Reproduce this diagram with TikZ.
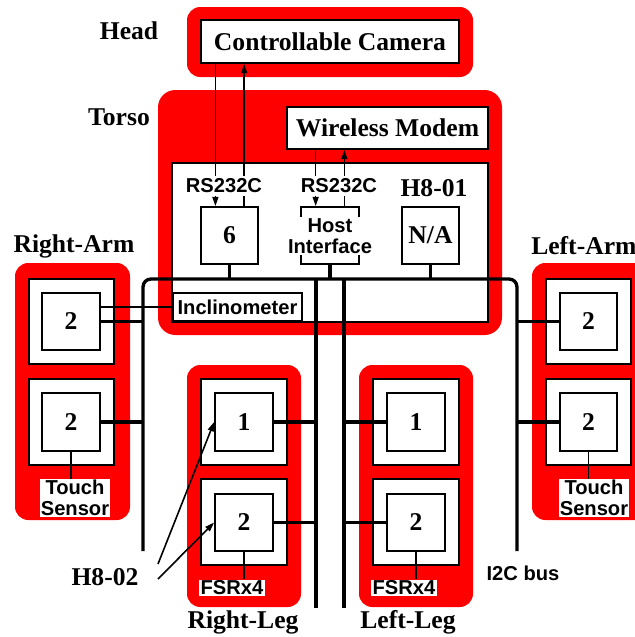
\documentclass[tikz,border=0pt]{standalone}
\usepackage{fontspec}
\setmainfont{Liberation Serif}
\setsansfont{Liberation Sans}
\usetikzlibrary{fit,arrows.meta,calc}

\newcommand{\titlefont}{\fontsize{19.2}{21}\selectfont\bfseries}
\newcommand{\tagfont}{\sffamily\bfseries\fontsize{15.1}{15.5}\selectfont}

\tikzset{
  redbg/.style={fill=red, draw=none, rounded corners=10pt, inner sep=0pt},
  box/.style={draw=black, fill=white, line width=1.3pt, inner sep=0pt,
              label={[font=\titlefont, inner sep=0pt]center:#1}},
  box/.default={},
  title/.style={font=\titlefont, inner sep=0pt},
  tag/.style={font=\tagfont, fill=white, inner sep=1pt, align=center},
  sig/.style={line width=1.2pt},
  tip/.style={-{Triangle[length=7pt,width=4.5pt]}},
  bus/.style={line width=2.5pt},
}

\begin{document}
\begin{tikzpicture}[x=0.75pt, y=-0.75pt]
\clip (0,0) rectangle (635,637);

% red body-part backgrounds
\node[redbg, fit={(187,7)(473,77)}] (headbg) {};
\node[redbg, rounded corners=13pt, fit={(158,90)(502,335)}] (torsobg) {};
\node[redbg, fit={(15,263)(130,520)}] (rarmbg) {};
\node[redbg, fit={(532,263)(648,520)}] (larmbg) {};
\node[redbg, fit={(187,365)(301,607)}] (rlegbg) {};
\node[redbg, fit={(359,365)(473,607)}] (llegbg) {};

% body-part titles
\node[title] (headlbl) at (129,31) {Head};
\node[title] (torsolbl) at (119,117) {Torso};
\node[title] (ralbl) at (74,246) {Right-Arm};
\node[title, anchor=west] (lalbl) at (531,246) {Left-Arm};
\node[title] (rllbl) at (243,622) {Right-Leg};
\node[title] (lllbl) at (408,622) {Left-Leg};
\node[title] (h802) at (105,577) {H8-02};
\node[font=\tagfont, inner sep=0pt] (i2c) at (523,573) {I2C bus};

% head and torso
\node[box=Controllable Camera, fit={(201,20)(459,63)}] (cam) {};
\node[box=Wireless Modem, fit={(287,107)(488,149)}] (modem) {};
\node[box, fit={(172,163)(488,322)}] (h801) {};
\node[title] (h801lbl) at (434,188) {H8-01};
\node[box=6, fit={(201,207)(258,264)}] (six) {};
\node[box, fit={(301,207)(359,264)}] (hif) {};
\node[box=N/A, fit={(402,207)(459,264)}] (na) {};
\node[box, fit={(173,293)(302,321)}] (incl) {};
\node[font=\tagfont, inner sep=0pt] (incltext) at (incl.center) {Inclinometer};

% right arm
\node[box, fit={(29,279)(114,364)}] (ra1o) {};
\node[box=2, fit={(42,293)(100,350)}] (ra1) {};
\node[box, fit={(29,379)(114,465)}] (ra2o) {};
\node[box=2, fit={(42,393)(100,451)}] (ra2) {};
% left arm
\node[box, fit={(546,279)(631,364)}] (la1o) {};
\node[box=2, fit={(560,293)(617,350)}] (la1) {};
\node[box, fit={(546,379)(631,465)}] (la2o) {};
\node[box=2, fit={(560,393)(617,451)}] (la2) {};
% right leg
\node[box, fit={(201,379)(287,465)}] (rl1o) {};
\node[box=1, fit={(215,393)(273,451)}] (rl1) {};
\node[box, fit={(201,479)(287,565)}] (rl2o) {};
\node[box=2, fit={(215,494)(273,551)}] (rl2) {};
% left leg
\node[box, fit={(373,379)(459,465)}] (ll1o) {};
\node[box=1, fit={(387,393)(445,451)}] (ll1) {};
\node[box, fit={(373,479)(459,565)}] (ll2o) {};
\node[box=2, fit={(387,494)(445,551)}] (ll2) {};

% serial links to camera and modem
\path ($(six.north west)!0.26!(six.north east)$) coordinate (c1)
      ($(six.north west)!0.75!(six.north east)$) coordinate (c2)
      ($(hif.north west)!0.26!(hif.north east)$) coordinate (m1)
      ($(hif.north west)!0.74!(hif.north east)$) coordinate (m2);
\draw[sig, tip] (c1 |- cam.south) -- (c1);
\draw[sig, tip] (c2) -- (c2 |- cam.south);
\draw[sig, tip] (m1 |- modem.south) -- (m1);
\draw[sig, tip] (m2) -- (m2 |- modem.south);

% I2C bus
\coordinate (bustop) at (330,279);
\coordinate (busL) at (143,551);
\coordinate (busR) at (517,551);
\coordinate (legL) at (316,608);
\coordinate (legR) at (344,608);
\draw[bus, rounded corners=6pt] (busL) |- (bustop) -| (busR);
\draw[bus] (legL |- bustop) -- (legL);
\draw[bus] (legR |- bustop) -- (legR);
\draw[bus] (six.south) -- (six.south |- bustop);
\draw[bus] (hif.south) -- (hif.south |- bustop);
\draw[bus] (na.south) -- (na.south |- bustop);
\draw[bus] (ra1.east) -- (ra1.east -| busL);
\draw[bus] (ra2.east) -- (ra2.east -| busL);
\draw[bus] (la1.west) -- (la1.west -| busR);
\draw[bus] (la2.west) -- (la2.west -| busR);
\draw[bus] (rl1.east) -- (rl1.east -| legL);
\draw[bus] (rl2.east) -- (rl2.east -| legL);
\draw[bus] (ll1.west) -- (ll1.west -| legR);
\draw[bus] (ll2.west) -- (ll2.west -| legR);

% inclinometer wire
\draw[sig] (ra1.east |- incl.west) -- (incl.west);

% sensor labels
\node[tag] (ts1) at (75,498) {Touch\\Sensor};
\node[tag] (ts2) at (594,498) {Touch\\Sensor};
\node[tag] (fsr1) at (232,588) {FSRx4};
\node[tag] (fsr2) at (404,588) {FSRx4};
\draw[sig] (ra2.south) -- (ra2.south |- ts1.north);
\draw[sig] (la2.south) -- (la2.south |- ts2.north);
\draw[sig] (rl2.south) -- (rl2.south |- fsr1.north);
\draw[sig] (ll2.south) -- (ll2.south |- fsr2.north);

% interface labels over the wires
\node[tag, inner sep=2pt] (rs1) at (224,186) {RS232C};
\node[tag, inner sep=2pt] (rs2) at (339,186) {RS232C};
\node[tag] (hitext) at (330,236) {Host\\Interface};

% H8-02 pointers
\coordinate (p1) at (158,564);
\coordinate (p2) at (158,579);
\draw[sig, tip] (p1) -- (rl1.west);
\draw[sig, tip] (p2) -- (rl2.west);
\end{tikzpicture}
\end{document}
